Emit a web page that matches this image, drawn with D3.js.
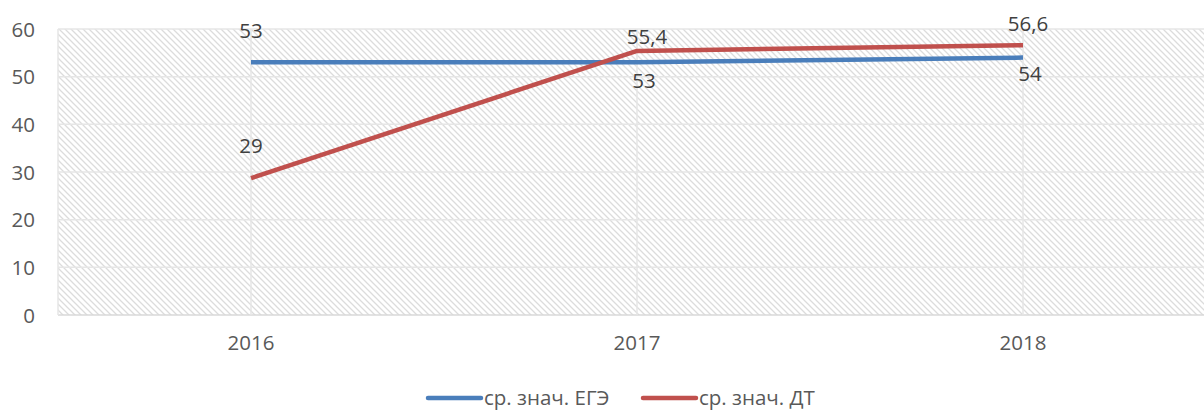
<html lang="ru">
  <head>
    <meta charset="UTF-8" />
    <title>Chart</title>
    <script src="https://d3js.org/d3.v7.min.js"></script>
    <style>
      * {
        margin: 0;
        padding: 0;
      }
      body {
        background: #fff;
      }
      text {
        font-family: "Open Sans", sans-serif;
        fill: #595959;
      }
    </style>
  </head>
  <body>
    <div id="svgContainer"></div>
    <script>
      const years = ["2016", "2017", "2018"];
      const egeValues = [53, 53, 54];
      const dtValues = [28.7, 55.4, 56.6];
      const egeLabels = ["53", "53", "54"];
      const dtLabels = ["29", "55,4", "56,6"];
      const yTicks = [0, 10, 20, 30, 40, 50, 60];
      const seriesNames = ["ср. знач. ЕГЭ", "ср. знач. ДТ"];

      const width = 1204;
      const height = 411;
      const MARGIN = { left: 58, right: -12, top: 29, bottom: 96 };
      const FONT = "20.5px";

      const svg = d3
        .select("#svgContainer")
        .append("svg")
        .attr("width", width)
        .attr("height", height);

      // hatch fill
      const defs = svg.append("defs");
      const pat = defs
        .append("pattern")
        .attr("id", "hatch")
        .attr("patternUnits", "userSpaceOnUse")
        .attr("width", 6)
        .attr("height", 6);
      pat
        .append("path")
        .attr("d", "M-1,-1 L7,7 M-7,-1 L1,7 M5,-1 L13,7")
        .attr("stroke", "#dcdcdc")
        .attr("stroke-width", 1.3);

      const x = d3
        .scaleBand()
        .domain(years)
        .range([MARGIN.left, width - MARGIN.right]);

      const y = d3
        .scaleLinear()
        .domain([0, 60])
        .range([height - MARGIN.bottom, MARGIN.top]);

      const cx = (d) => x(d) + x.bandwidth() / 2;

      svg
        .append("rect")
        .attr("x", MARGIN.left)
        .attr("y", MARGIN.top)
        .attr("width", width - MARGIN.left - MARGIN.right)
        .attr("height", y(0) - MARGIN.top)
        .attr("fill", "url(#hatch)");

      // gridlines
      svg
        .selectAll("line.hgrid")
        .data(yTicks)
        .join("line")
        .attr("class", "hgrid")
        .attr("x1", MARGIN.left)
        .attr("x2", width)
        .attr("y1", (d) => y(d))
        .attr("y2", (d) => y(d))
        .attr("stroke", (d) => (d === 0 ? "#d9d9d9" : "#e6e6e6"))
        .attr("stroke-width", 1.5);

      svg
        .selectAll("line.vgrid")
        .data(years)
        .join("line")
        .attr("class", "vgrid")
        .attr("x1", cx)
        .attr("x2", cx)
        .attr("y1", MARGIN.top)
        .attr("y2", y(0))
        .attr("stroke", "#e6e6e6")
        .attr("stroke-width", 1.5);

      svg
        .append("line")
        .attr("x1", MARGIN.left)
        .attr("x2", MARGIN.left)
        .attr("y1", MARGIN.top)
        .attr("y2", y(0))
        .attr("stroke", "#e6e6e6")
        .attr("stroke-width", 1.5);

      // axes
      const axisLeft = d3.axisLeft(y).tickValues(yTicks).tickSize(0).tickPadding(0);
      const gy = svg
        .append("g")
        .attr("transform", `translate(35,0)`)
        .call(axisLeft);
      gy.select(".domain").remove();
      gy.selectAll("text")
        .style("font-size", FONT)
        .style("font-family", "Open Sans")
        .attr("fill", "#595959")
        .attr("dy", "0.35em");

      const axisBottom = d3.axisBottom(x).tickSize(0).tickPadding(0);
      const gx = svg
        .append("g")
        .attr("transform", `translate(0,${y(0) + 20})`)
        .call(axisBottom);
      gx.select(".domain").remove();
      gx.selectAll("text")
        .style("font-size", FONT)
        .style("font-family", "Open Sans")
        .attr("fill", "#595959");

      // label offsets (px) relative to each point
      const series = [
        { name: seriesNames[0], values: egeValues, labels: egeLabels, color: "#4a7ebb", dy: [-32, 18, 16], dx: [0, 7, 7] },
        { name: seriesNames[1], values: dtValues, labels: dtLabels, color: "#c0504d", dy: [-32, -14, -21], dx: [0, 10, 5] },
      ];

      const line = d3
        .line()
        .x((d, i) => cx(years[i]))
        .y((d) => y(d));

      series.forEach((s) => {
        svg
          .append("path")
          .datum(s.values)
          .attr("d", line)
          .attr("fill", "none")
          .attr("stroke", s.color)
          .attr("stroke-width", 4.5)
          .attr("stroke-linejoin", "round");
      });

      series.forEach((s) => {
        svg
          .selectAll(null)
          .data(s.values)
          .join("text")
          .attr("x", (d, i) => cx(years[i]) + s.dx[i])
          .attr("y", (d, i) => y(d) + s.dy[i])
          .attr("text-anchor", "middle")
          .attr("dy", "0.35em")
          .style("font-size", FONT)
          .style("fill", "#404040")
          .text((d, i) => s.labels[i]);
      });

      // legend
      const legendX = [428, 643];
      const legend = svg
        .selectAll("g.legend")
        .data(series)
        .join("g")
        .attr("class", "legend")
        .attr("transform", (d, i) => `translate(${legendX[i]},398)`);
      legend
        .append("line")
        .attr("x1", 0)
        .attr("x2", 53)
        .attr("stroke", (d) => d.color)
        .attr("stroke-width", 4.5)
        .attr("stroke-linecap", "round");
      legend
        .append("text")
        .attr("x", 56)
        .attr("dy", "0.35em")
        .style("font-size", FONT)
        .attr("fill", "#595959")
        .text((d) => d.name);
    </script>
  </body>
</html>
